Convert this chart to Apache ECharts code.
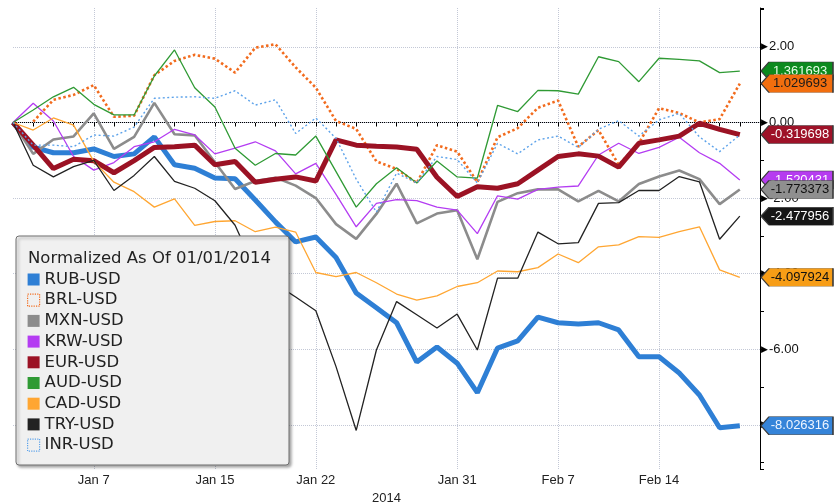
<!DOCTYPE html>
<html>
<head>
<meta charset="utf-8">
<script src="https://cdn.jsdelivr.net/npm/echarts@6/dist/echarts.min.js"></script>
<style>
  html, body { margin: 0; padding: 0; background: #fff; }
  #main { width: 834px; height: 502px; }
</style>
</head>
<body>
<div id="main"></div>
<script>
// trading days, Jan 1 .. Feb 21 2014
var dates = ['Jan 1', 'Jan 2', 'Jan 3', 'Jan 6', 'Jan 7', 'Jan 8', 'Jan 9', 'Jan 10',
  'Jan 13', 'Jan 14', 'Jan 15', 'Jan 16', 'Jan 17', 'Jan 20', 'Jan 21', 'Jan 22',
  'Jan 23', 'Jan 24', 'Jan 27', 'Jan 28', 'Jan 29', 'Jan 30', 'Jan 31',
  'Feb 3', 'Feb 4', 'Feb 5', 'Feb 6', 'Feb 7', 'Feb 10', 'Feb 11', 'Feb 12', 'Feb 13', 'Feb 14',
  'Feb 17', 'Feb 18', 'Feb 19', 'Feb 20', 'Feb 21'];
var tickDates = ['Jan 7', 'Jan 15', 'Jan 22', 'Jan 31', 'Feb 7', 'Feb 14'];
var gridValues = [2, 0, -2, -4, -6, -8];

var rub = [0, -0.65, -0.8, -0.8, -0.7, -0.9, -0.83, -0.38, -1.12, -1.21, -1.47, -1.49, -2.05, -2.63, -3.16, -3.03, -3.57, -4.51, -4.9, -5.3, -6.34, -5.94, -6.37, -7.15, -5.97, -5.78, -5.15, -5.3, -5.33, -5.3, -5.49, -6.2, -6.2, -6.63, -7.21, -8.08, -8.026316];
var brl = [null, 0.02, 0.6, 0.73, 0.99, 0.15, 0.18, 1.25, 1.63, 1.79, 1.69, 1.32, 1.98, 2.07, 1.46, 0.92, 0.04, -0.17, -1.03, -1.23, -1.6, -0.6, -0.77, -1.58, -0.39, -0.15, 0.39, 0.58, -0.64, -0.2, -1.12, -0.55, 0.38, 0.25, 0.0, 0.09, 1.029693];
var mxn = [0, -0.83, -0.45, -0.37, 0.24, -0.7, -0.38, 0.52, -0.31, -0.34, -1.05, -1.76, -1.55, -1.46, -1.67, -2.0, -2.69, -3.08, -2.42, -1.62, -2.67, -2.41, -2.32, -3.62, -2.1, -1.87, -1.77, -1.77, -2.09, -1.81, -2.09, -1.63, -1.43, -1.27, -1.5, -2.16, -1.773373];
var krw = [0, 0.51, 0.04, -0.9, -1.26, -1.06, -0.64, -0.51, -0.18, -0.33, -0.83, -0.68, -0.51, -0.75, -1.36, -1.08, -1.9, -2.76, -2.14, -2.04, -2.07, -2.24, -2.32, -2.94, -1.94, -2.03, -1.77, -1.71, -1.68, -0.86, -0.55, -0.82, -0.66, -0.39, -0.8, -1.08, -1.520431];
var eur = [0, -0.6, -1.22, -0.97, -1.01, -1.33, -1.01, -0.66, -0.64, -0.6, -1.12, -1.03, -1.58, -1.5, -1.44, -1.55, -0.46, -0.6, -0.63, -0.65, -0.71, -1.45, -1.96, -1.7, -1.74, -1.62, -1.26, -0.9, -0.83, -0.89, -1.18, -0.55, -0.46, -0.36, -0.02, -0.18, -0.319698];
var aud = [0, 0.33, 0.68, 0.93, 0.48, 0.2, 0.2, 1.23, 1.92, 0.92, 0.41, -0.68, -1.13, -0.82, -0.86, -0.36, -1.3, -2.24, -1.62, -1.2, -1.6, -1.02, -1.44, -1.47, 0.45, 0.29, 0.85, 0.84, 0.75, 1.74, 1.61, 1.08, 1.7, 1.67, 1.63, 1.32, 1.361693];
var cad = [0, -0.2, 0.12, -0.07, -1.03, -1.58, -1.83, -2.24, -2.02, -2.72, -2.62, -2.6, -2.89, -2.77, -2.9, -3.97, -4.08, -3.97, -4.24, -4.54, -4.7, -4.59, -4.34, -4.24, -3.93, -3.95, -3.84, -3.48, -3.71, -3.29, -3.24, -3.02, -3.04, -2.89, -2.76, -3.9, -4.097924];
var tryv = [0, -1.13, -1.44, -1.17, -1.0, -1.8, -1.4, -0.9, -1.56, -1.74, -2.07, -2.72, -3.9, -4.27, -4.62, -4.98, -6.46, -8.15, -6.02, -4.74, -5.09, -5.44, -5.07, -6.02, -4.12, -4.12, -2.9, -3.21, -3.18, -2.14, -2.12, -1.8, -1.8, -1.43, -1.57, -3.09, -2.477956];
var inr = [0, -0.6, -0.6, -0.64, -0.33, -0.36, -0.12, 0.64, 0.67, 0.68, 0.64, 0.84, 0.46, 0.6, -0.29, 0.12, -0.42, -1.5, -2.37, -1.34, -1.6, -0.9, -0.98, -1.6, -0.55, -0.83, -0.46, -0.36, -0.66, -0.18, 0.05, -0.36, 0.07, 0.24, -0.38, -0.77, -0.33];

var names = ['RUB-USD', 'BRL-USD', 'MXN-USD', 'KRW-USD', 'EUR-USD', 'AUD-USD', 'CAD-USD', 'TRY-USD', 'INR-USD'];
var lastLabels = ['-8.026316', '1.029693', '-1.773373', '-1.520431', '-0.319698', '1.361693', '-4.097924', '-2.477956', null];

var myChart = echarts.init(document.getElementById('main'));

var tagPath = 'path://M0,9 L8,0 L72,0 L72,18 L8,18 Z';

// end-of-line value tag sitting on the right axis
function tag(i, value, fill, textColor, z) {
    return {
        z: z,
        silent: true,
        symbol: tagPath,
        symbolSize: [72, 18],
        symbolKeepAspect: false,
        symbolOffset: [37, 0],
        itemStyle: { color: fill, borderColor: '#3a3a3a', borderWidth: 0.8 },
        label: {
            show: true, position: 'inside', offset: [3, 0],
            formatter: lastLabels[i], color: textColor,
            fontFamily: 'Liberation Sans', fontSize: 13
        },
        data: [{ coord: [dates[dates.length - 1], value] }]
    };
}

function line(i, data, color, width, type, extra) {
    var s = {
        name: names[i],
        type: 'line',
        data: data,
        symbol: 'none',
        clip: false,
        animation: false,
        itemStyle: { color: color },
        lineStyle: { color: color, width: width, type: type }
    };
    return Object.assign(s, extra || {});
}

var option = {
    animation: false,
    grid: { left: 13, right: 74, top: 8, bottom: 33, outerBoundsMode: 'none', containLabel: false },
    title: {
        text: 'Normalized As Of 01/01/2014',
        left: 23, top: 245, z: 60,
        textStyle: { fontFamily: 'DejaVu Sans', fontSize: 16.5, fontWeight: 'normal', color: '#222' }
    },
    graphic: [{
        type: 'rect', z: 50,
        shape: { x: 16, y: 236, width: 273, height: 229, r: 3 },
        style: {
            fill: '#f0f0f0', stroke: '#707070', lineWidth: 1,
            shadowBlur: 3, shadowOffsetX: 2, shadowOffsetY: 2, shadowColor: 'rgba(0,0,0,0.35)'
        }
    }],
    legend: {
        orient: 'vertical', left: 22, top: 266, z: 60,
        icon: 'rect', itemWidth: 12, itemHeight: 12, itemGap: 3.7,
        textStyle: { fontFamily: 'DejaVu Sans', fontSize: 16.5, color: '#222' },
        data: [
            'RUB-USD',
            { name: 'BRL-USD', itemStyle: { color: '#f0f0f0', borderColor: '#f26b1d', borderWidth: 1.2, borderType: 'dotted' } },
            'MXN-USD', 'KRW-USD', 'EUR-USD', 'AUD-USD', 'CAD-USD', 'TRY-USD',
            { name: 'INR-USD', itemStyle: { color: '#f0f0f0', borderColor: '#5ca2ea', borderWidth: 1.2, borderType: 'dotted' } }
        ]
    },
    xAxis: {
        type: 'category',
        data: dates,
        boundaryGap: false,
        name: '2014',
        nameLocation: 'middle',
        nameGap: 20,
        nameTextStyle: { fontFamily: 'Liberation Sans', fontSize: 13, color: '#222' },
        axisLine: { lineStyle: { color: '#000', width: 1 } },
        axisTick: { show: true, interval: 0, length: 4, lineStyle: { color: '#000' } },
        axisLabel: {
            interval: function (idx, val) { return tickDates.indexOf(val) >= 0; },
            fontFamily: 'Liberation Sans', fontSize: 13, color: '#222', margin: 5
        },
        splitLine: {
            show: true,
            interval: function (idx, val) { return tickDates.indexOf(val) >= 0; },
            lineStyle: { type: 'dotted', color: '#c3c8d6', width: 1 }
        }
    },
    yAxis: {
        type: 'value',
        position: 'right',
        min: -9.17, max: 3.03,
        minInterval: 1, maxInterval: 1,
        axisLine: { show: true, lineStyle: { color: '#000', width: 1 } },
        axisTick: { show: true, length: 4, lineStyle: { color: '#000' } },
        splitLine: { show: false },
        axisLabel: {
            margin: 1,
            fontFamily: 'Liberation Sans', fontSize: 13, color: '#111',
            formatter: function (v) {
                if (Math.abs(v - Math.round(v)) > 1e-6 || Math.round(v) % 2 !== 0) return '';
                return '{a|\u25B6}' + v.toFixed(2);
            },
            rich: { a: { fontSize: 9, color: '#000', padding: [0, 1, 0, 0] } }
        }
    },
    series: [
        line(0, rub, '#2e7fd5', 5, 'solid', {
            markLine: {
                silent: true, symbol: 'none', z: 1,
                label: { show: false },
                lineStyle: { type: 'dotted', color: '#c3c8d6', width: 1 },
                data: gridValues.map(function (v) { return { yAxis: v }; })
            },
            markPoint: tag(0, rub[rub.length - 1], '#3584d9', '#eef5ff', 12)
        }),
        line(1, brl, '#f26b1d', 2.6, [2.5, 2.5], { markPoint: tag(1, brl[brl.length - 1], '#f26e0e', '#1a1a1a', 13) }),
        line(2, mxn, '#8c8c8c', 2.6, 'solid', { markPoint: tag(2, mxn[mxn.length - 1], '#8f8f8f', '#111', 13) }),
        line(3, krw, '#b43cf2', 1.3, 'solid', { markPoint: tag(3, krw[krw.length - 1], '#b63cf0', '#fff', 11) }),
        line(4, eur, '#9b1224', 5, 'solid', { z: 3, markPoint: tag(4, eur[eur.length - 1], '#9e1228', '#fff', 12) }),
        line(5, aud, '#2f9a34', 1.3, 'solid', { markPoint: tag(5, aud[aud.length - 1], '#0c8a1e', '#e8ffe8', 11) }),
        line(6, cad, '#ffa632', 1.3, 'solid', { markPoint: tag(6, cad[cad.length - 1], '#f79d16', '#111', 12) }),
        line(7, tryv, '#222222', 1.3, 'solid', { markPoint: tag(7, tryv[tryv.length - 1], '#161616', '#fff', 12) }),
        line(8, inr, '#5ca2ea', 1.4, [2, 2.5])
    ]
};

myChart.setOption(option);
</script>
</body>
</html>
